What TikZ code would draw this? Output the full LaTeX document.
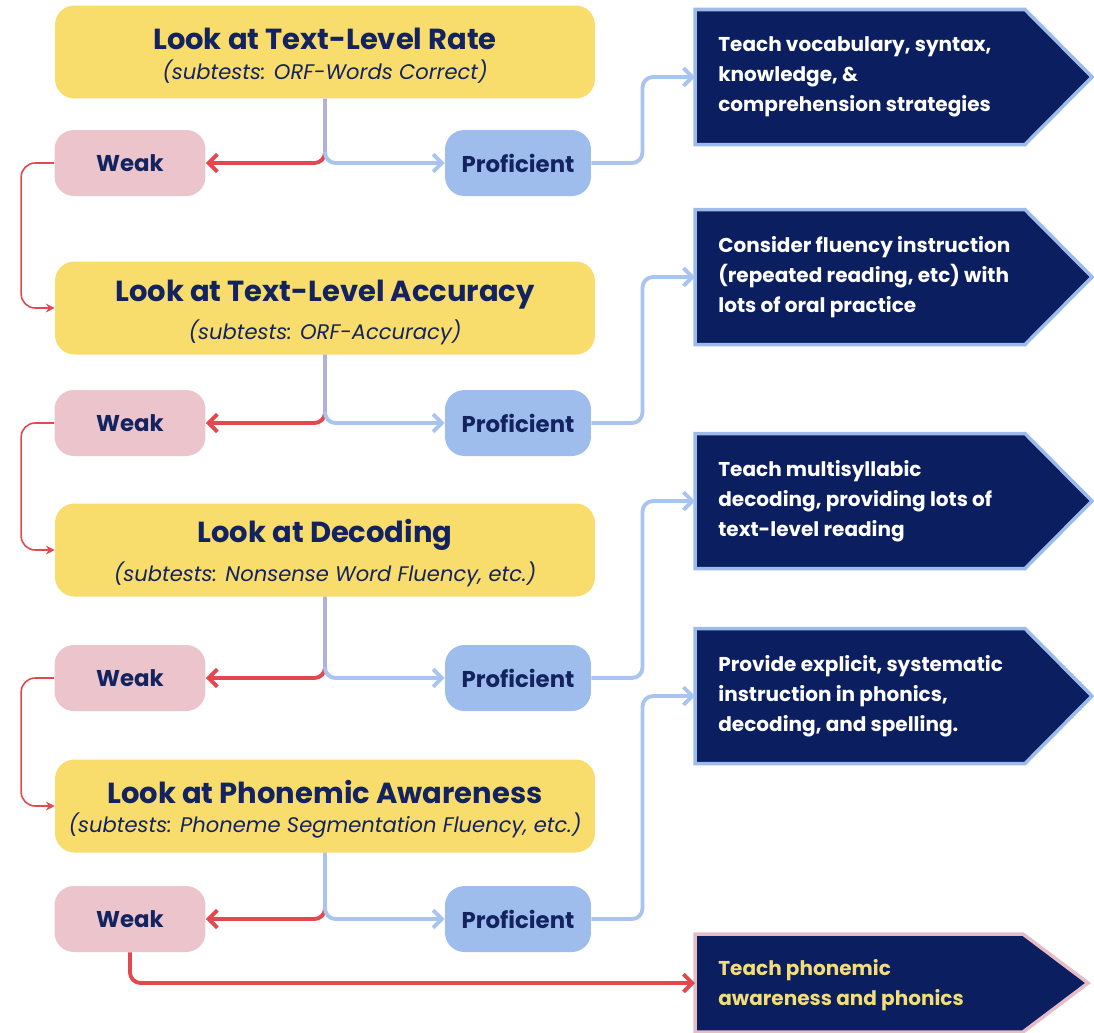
\documentclass[tikz,border=0pt]{standalone}
\usepackage{fontspec}
\setmainfont{Poppins}
\usetikzlibrary{arrows.meta,positioning,backgrounds}

\definecolor{testyellow}{HTML}{F8DC6C}
\definecolor{weakpink}{HTML}{EBC4CC}
\definecolor{profblue}{HTML}{9EBDEC}
\definecolor{inknavy}{HTML}{13235F}
\definecolor{advnavy}{HTML}{0B1E60}
\definecolor{advedge}{HTML}{9DBBEA}
\definecolor{advpink}{HTML}{E6BDC6}
\definecolor{advyellow}{HTML}{F3DC7A}
\definecolor{failred}{HTML}{E5474F}
\definecolor{passblue}{HTML}{A9C4F0}
\definecolor{stemlav}{HTML}{B2B1DC}

\newcommand{\testtext}[2]{{\fontsize{16.5}{19}\selectfont\bfseries\rule{0pt}{16.8pt}#1}\\[5pt]{\fontsize{12}{14}\selectfont\itshape #2}}

\begin{document}
\begin{tikzpicture}[x=0.02cm,y=-0.02cm,
  test/.style={rectangle,rounded corners=11pt,fill=testyellow,minimum width=10.8cm,minimum height=1.86cm,align=center,text=inknavy,inner sep=0pt},
  weak/.style={rectangle,rounded corners=11pt,fill=weakpink,minimum width=3.02cm,minimum height=1.32cm,text=inknavy,font=\bfseries\fontsize{13}{15}\selectfont},
  prof/.style={rectangle,rounded corners=11pt,fill=profblue,minimum width=2.92cm,minimum height=1.32cm,text=inknavy,font=\bfseries\fontsize{13}{15}\selectfont},
  advice/.style={align=left,text=white,inner sep=0pt,font=\bfseries\fontsize{11.4}{17}\selectfont},
  advbox/.style={fill=advnavy,draw=advedge,line width=2pt},
  fail/.style={draw=failred,line width=2.2pt,rounded corners=6pt,-{Straight Barb[length=5pt,width=10pt]}},
  pass/.style={draw=passblue,line width=2.2pt,rounded corners=6pt,-{Straight Barb[length=5pt,width=10pt]}},
  loop/.style={draw=failred,line width=0.9pt,rounded corners=8pt,-{Stealth[length=5pt,width=5pt]}},
  stem/.style={draw=stemlav,line width=2.2pt,shorten >=0.22cm}]
\useasboundingbox (0,0) rectangle (1094,1032);

% tests on the left
\node[test] (t1) at (325,52) {\testtext{Look at Text-Level Rate}{(subtests: ORF-Words Correct)}};
\node[test] (t2) at (325,308) {\testtext{Look at Text-Level Accuracy}{(subtests: ORF-Accuracy)}};
\node[test] (t3) at (325,550) {\testtext{Look at Decoding}{(subtests: Nonsense Word Fluency, etc.)}};
\node[test] (t4) at (325,806) {\testtext{Look at Phonemic Awareness}{(subtests: Phoneme Segmentation Fluency, etc.)}};

\foreach \i/\y in {1/163,2/423,3/678,4/919} {
  \node[weak] (w\i) at (130,\y) {Weak};
  \node[prof] (p\i) at (518,\y) {Proficient};
}

% advice boxes on the right
\coordinate (in1) at (695,77);
\coordinate (in2) at (695,277);
\coordinate (in3) at (695,501);
\coordinate (in4) at (695,696);
\coordinate (in5) at (695,983);
\begin{scope}[on background layer]
\foreach \i in {1,...,4} {
  \path[advbox] (in\i) -- ++(0,-67.5) -- ++(330,0) -- ++(67,67.5) -- ++(-67,67.5) -- ++(-330,0) -- cycle;
}
\path[advbox,draw=advpink] (in5) -- ++(0,-49) -- ++(328,0) -- ++(65,49) -- ++(-65,49) -- ++(-328,0) -- cycle;
\end{scope}
\node[advice,right=0.46cm of in1] (a1) {Teach vocabulary, syntax,\\knowledge, \&\\comprehension strategies};
\node[advice,right=0.46cm of in2] (a2) {Consider fluency instruction\\(repeated reading, etc) with\\lots of oral practice};
\node[advice,right=0.46cm of in3] (a3) {Teach multisyllabic\\decoding, providing lots of\\text-level reading};
\node[advice,right=0.46cm of in4] (a4) {Provide explicit, systematic\\instruction in phonics,\\decoding, and spelling.};
\node[advice,right=0.46cm of in5,text=advyellow,yshift=-0.04cm] (a5) {Teach phonemic\\awareness and phonics};

% splits below each test
\foreach \i in {1,...,4} {
  \draw[fail] (t\i.south) |- (w\i.east);
  \draw[pass] (t\i.south) |- (p\i.west);
  \draw[pass] (p\i.east) -| ([xshift=-1.05cm]in\i) -- (in\i);
}
\foreach \i in {1,...,3} {
  \draw[stem] (t\i.south) -- (t\i.south |- w\i.east);
}

% weak leads to the next test
\draw[loop] (w1.west) -- ++(-33,0) |- (t2.west);
\draw[loop] (w2.west) -- ++(-33,0) |- (t3.west);
\draw[loop] (w3.west) -- ++(-33,0) |- (t4.west);
\draw[fail] (w4.south) |- (in5);
\end{tikzpicture}
\end{document}
